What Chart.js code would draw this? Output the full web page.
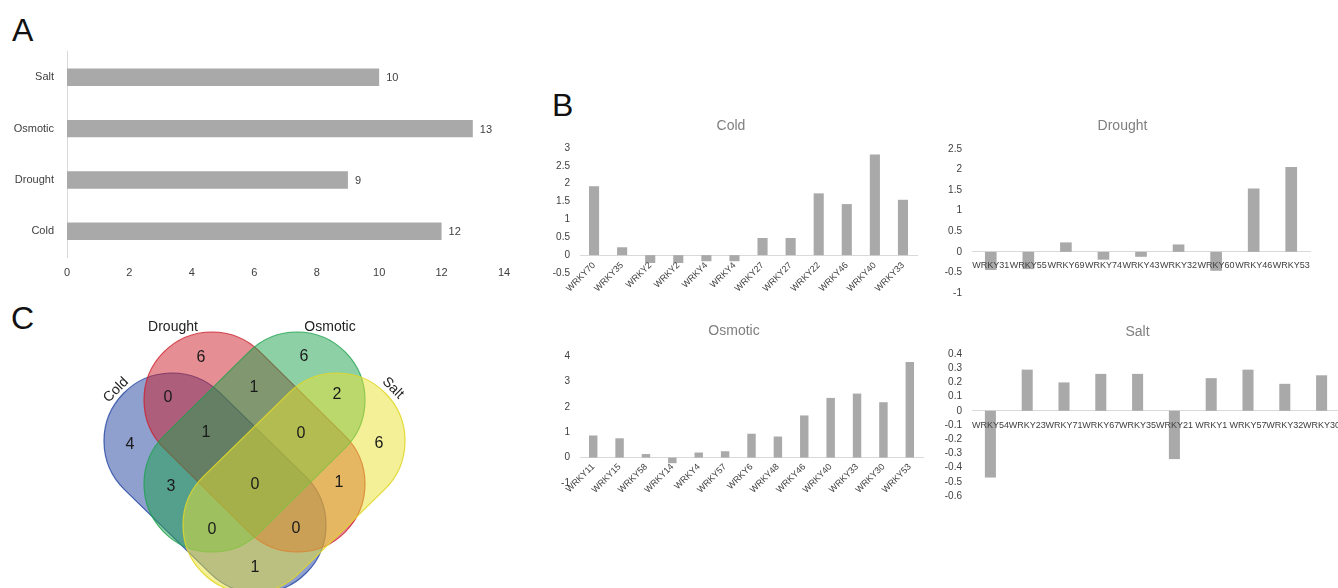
<!DOCTYPE html>
<html lang="en">
<head>
<meta charset="UTF-8">
<title>WRKY genes under abiotic stress</title>
<script src="https://cdn.jsdelivr.net/npm/chart.js"></script>
<style>
  body { margin: 0; width: 1338px; height: 588px; overflow: hidden; background: #fff; position: relative;
         font-family: "Liberation Sans", Arial, sans-serif; }
  .panel { position: absolute; }
  .letter { position: absolute; font-size: 32px; line-height: 1; color: #111; }
</style>
</head>
<body>
<div class="letter" style="left:12px;top:14px">A</div>
<div class="letter" style="left:552px;top:89px">B</div>
<div class="letter" style="left:11px;top:302px">C</div>

<canvas id="countChart" class="panel" width="530" height="258" style="left:0;top:32px"></canvas>
<canvas id="coldChart" class="panel" width="386" height="200" style="left:545px;top:110px"></canvas>
<canvas id="droughtChart" class="panel" width="386" height="200" style="left:935px;top:110px"></canvas>
<canvas id="osmoticChart" class="panel" width="396" height="200" style="left:545px;top:315px"></canvas>
<canvas id="saltChart" class="panel" width="420" height="220" style="left:935px;top:315px"></canvas>
<canvas id="vennChart" class="panel" width="440" height="288" style="left:0;top:300px"></canvas>

<script>
// ---- data ----
const stressNames = ['Salt', 'Osmotic', 'Drought', 'Cold'];
const stressGeneCounts = [10, 13, 9, 12];

const coldGenes = ['WRKY70', 'WRKY35', 'WRKY2', 'WRKY2', 'WRKY4', 'WRKY4', 'WRKY27', 'WRKY27', 'WRKY22', 'WRKY46', 'WRKY40', 'WRKY33'];
const coldValues = [1.93, 0.22, -0.22, -0.22, -0.17, -0.17, 0.48, 0.48, 1.73, 1.43, 2.82, 1.55];

const droughtGenes = ['WRKY31', 'WRKY55', 'WRKY69', 'WRKY74', 'WRKY43', 'WRKY32', 'WRKY60', 'WRKY46', 'WRKY53'];
const droughtValues = [-0.44, -0.42, 0.23, -0.19, -0.12, 0.18, -0.46, 1.54, 2.06];

const osmoticGenes = ['WRKY11', 'WRKY15', 'WRKY58', 'WRKY14', 'WRKY4', 'WRKY57', 'WRKY6', 'WRKY48', 'WRKY46', 'WRKY40', 'WRKY33', 'WRKY30', 'WRKY53'];
const osmoticValues = [0.87, 0.76, 0.14, -0.22, 0.2, 0.25, 0.94, 0.83, 1.66, 2.35, 2.52, 2.18, 3.76];

const saltGenes = ['WRKY54', 'WRKY23', 'WRKY71', 'WRKY67', 'WRKY35', 'WRKY21', 'WRKY1', 'WRKY57', 'WRKY32', 'WRKY30'];
const saltValues = [-0.47, 0.29, 0.2, 0.26, 0.26, -0.34, 0.23, 0.29, 0.19, 0.25];

const vennSets = ['Cold', 'Drought', 'Osmotic', 'Salt'];
const vennRegions = ['C', 'D', 'O', 'S', 'CD', 'DO', 'OS', 'CDO', 'DOS', 'CO', 'DS', 'CDOS', 'COS', 'CDS', 'CS'];
const vennCounts = [4, 6, 6, 6, 0, 1, 2, 1, 0, 3, 1, 0, 0, 0, 1];

// ---- venn layout (canvas units) ----
const vennRegionCentres = [[130, 145], [201, 58], [304, 57], [379, 144], [168, 98], [254, 88], [337, 95],
  [206, 133], [301, 134], [171, 187], [339, 183], [255, 185], [212, 230], [296, 229], [255, 268]];
const vennShapeGeom = [
  { from: [172, 141], to: [258, 225], fill: 'rgba(31,65,160,0.5)', line: 'rgba(31,65,160,0.8)' },
  { from: [212, 100], to: [297, 184], fill: 'rgba(204,30,40,0.5)', line: 'rgba(204,30,40,0.8)' },
  { from: [297, 100], to: [212, 184], fill: 'rgba(27,161,75,0.5)', line: 'rgba(27,161,75,0.8)' },
  { from: [337, 141], to: [251, 225], fill: 'rgba(232,226,50,0.5)', line: 'rgba(225,215,40,0.9)' }
];
const vennRadius = 68;
const vennNamePos = [[116, 90, -45], [173, 27, 0], [330, 27, 0], [393, 88, 45]];

const FONT = '"Liberation Sans", Arial, sans-serif';
Chart.defaults.font.family = FONT;
Chart.defaults.animation = false;
Chart.defaults.responsive = false;
Chart.defaults.devicePixelRatio = 1;
Chart.defaults.events = [];
Chart.defaults.plugins.legend.display = false;
Chart.defaults.plugins.tooltip.enabled = false;

const BAR_GREY = '#a9a9a9';
const tickFmt = v => String(Math.round(v * 10) / 10);

// ---- A: gene counts per stress ----
const valueLabels = {
  id: 'valueLabels',
  afterDatasetsDraw(chart) {
    const ctx = chart.ctx;
    const meta = chart.getDatasetMeta(0);
    ctx.save();
    ctx.font = '11px ' + FONT;
    ctx.fillStyle = '#404040';
    ctx.textBaseline = 'middle';
    meta.data.forEach((bar, i) => {
      ctx.fillText(String(chart.data.datasets[0].data[i]), bar.x + 7, bar.y + 1);
    });
    ctx.restore();
  }
};

new Chart(document.getElementById('countChart'), {
  type: 'bar',
  data: {
    labels: stressNames,
    datasets: [{ data: stressGeneCounts, backgroundColor: BAR_GREY, categoryPercentage: 1, barPercentage: 0.34 }]
  },
  options: {
    indexAxis: 'y',
    layout: { padding: { top: 0, right: 26 } },
    scales: {
      x: {
        min: 0, max: 14,
        ticks: { stepSize: 2, color: '#404040', font: { size: 11 }, padding: 9 },
        grid: { display: false, drawTicks: false },
        border: { display: false },
        afterFit: s => { s.height = 33; }
      },
      y: {
        ticks: { color: '#404040', font: { size: 11 }, padding: 13 },
        grid: { display: false, drawTicks: false },
        border: { display: true, color: '#d9d9d9' },
        afterFit: s => { s.width = 67; }
      }
    }
  },
  plugins: [valueLabels]
});

// ---- B: expression charts ----
function expressionChart(id, title, genes, values, o) {
  return new Chart(document.getElementById(id), {
    type: 'bar',
    data: {
      labels: genes,
      datasets: [{ data: values, backgroundColor: BAR_GREY, categoryPercentage: 1, barPercentage: o.barPct }]
    },
    options: {
      layout: { padding: { right: o.padRight, bottom: o.bottom } },
      plugins: {
        title: {
          display: true, text: title, color: '#7f7f7f',
          font: { size: 14, weight: 'normal' },
          padding: { top: o.titleTop, bottom: o.titleBottom }
        }
      },
      scales: {
        x: {
          position: { y: 0 },
          ticks: {
            autoSkip: false, minRotation: o.rot, maxRotation: o.rot,
            color: '#404040', font: { size: 9 }, padding: o.labelPad, z: 1
          },
          grid: { display: false, drawTicks: false },
          border: { display: true, color: '#d9d9d9' }
        },
        y: {
          min: o.min, max: o.max,
          ticks: { stepSize: o.step, autoSkip: false, callback: tickFmt, color: '#404040', font: { size: 10 }, padding: 10 },
          grid: { display: false, drawTicks: false },
          border: { display: false },
          afterFit: s => { s.width = o.left; }
        }
      }
    }
  });
}

expressionChart('coldChart', 'Cold', coldGenes, coldValues,
  { min: -0.5, max: 3, step: 0.5, rot: 45, barPct: 0.36, left: 35, padRight: 14, titleTop: 7.6, titleBottom: 13.6, bottom: 37, labelPad: 5 });
expressionChart('droughtChart', 'Drought', droughtGenes, droughtValues,
  { min: -1, max: 2.5, step: 0.5, rot: 0, barPct: 0.31, left: 37, padRight: 11, titleTop: 7.6, titleBottom: 14.6, bottom: 17, labelPad: 8 });
expressionChart('osmoticChart', 'Osmotic', osmoticGenes, osmoticValues,
  { min: -1, max: 4, step: 1, rot: 45, barPct: 0.32, left: 35, padRight: 18, titleTop: 7.6, titleBottom: 16.6, bottom: 32, labelPad: 4 });
expressionChart('saltChart', 'Salt', saltGenes, saltValues,
  { min: -0.6, max: 0.4, step: 0.1, rot: 0, barPct: 0.3, left: 37, padRight: 15, titleTop: 8.6, titleBottom: 13.6, bottom: 39, labelPad: 9 });

// ---- C: venn diagram ----
const vennDraw = {
  id: 'vennDraw',
  beforeDatasetsDraw(chart) {
    const { ctx, scales: { x, y } } = chart;
    const r = x.getPixelForValue(vennRadius) - x.getPixelForValue(0);
    ctx.save();
    vennShapeGeom.forEach(s => {
      const x1 = x.getPixelForValue(s.from[0]), y1 = y.getPixelForValue(s.from[1]);
      const x2 = x.getPixelForValue(s.to[0]), y2 = y.getPixelForValue(s.to[1]);
      const a = Math.atan2(y2 - y1, x2 - x1);
      ctx.beginPath();
      ctx.arc(x2, y2, r, a - Math.PI / 2, a + Math.PI / 2);
      ctx.arc(x1, y1, r, a + Math.PI / 2, a + 3 * Math.PI / 2);
      ctx.closePath();
      ctx.fillStyle = s.fill;
      ctx.fill();
      ctx.lineWidth = 1.2;
      ctx.strokeStyle = s.line;
      ctx.stroke();
    });
    ctx.font = '14px ' + FONT;
    ctx.fillStyle = '#222';
    ctx.textAlign = 'center';
    ctx.textBaseline = 'middle';
    vennSets.forEach((name, i) => {
      const [px, py, rot] = vennNamePos[i];
      ctx.save();
      ctx.translate(x.getPixelForValue(px), y.getPixelForValue(py));
      ctx.rotate(rot * Math.PI / 180);
      ctx.fillText(name, 0, 0);
      ctx.restore();
    });
    ctx.restore();
  },
  afterDatasetsDraw(chart) {
    const ctx = chart.ctx;
    const ds = chart.data.datasets[0];
    ctx.save();
    ctx.font = '16px ' + FONT;
    ctx.fillStyle = '#1a1a1a';
    ctx.textAlign = 'center';
    ctx.textBaseline = 'middle';
    chart.getDatasetMeta(0).data.forEach((pt, i) => {
      ctx.fillText(String(ds.data[i].count), pt.x, pt.y);
    });
    ctx.restore();
  }
};

new Chart(document.getElementById('vennChart'), {
  type: 'scatter',
  data: {
    datasets: [{
      data: vennRegionCentres.map((c, i) => ({ x: c[0], y: c[1], count: vennCounts[i], region: vennRegions[i] })),
      pointRadius: 0
    }]
  },
  options: {
    layout: { padding: 0 },
    scales: {
      x: { type: 'linear', min: 0, max: 440, display: false },
      y: { type: 'linear', min: 0, max: 288, reverse: true, display: false }
    }
  },
  plugins: [vennDraw]
});
</script>
</body>
</html>
